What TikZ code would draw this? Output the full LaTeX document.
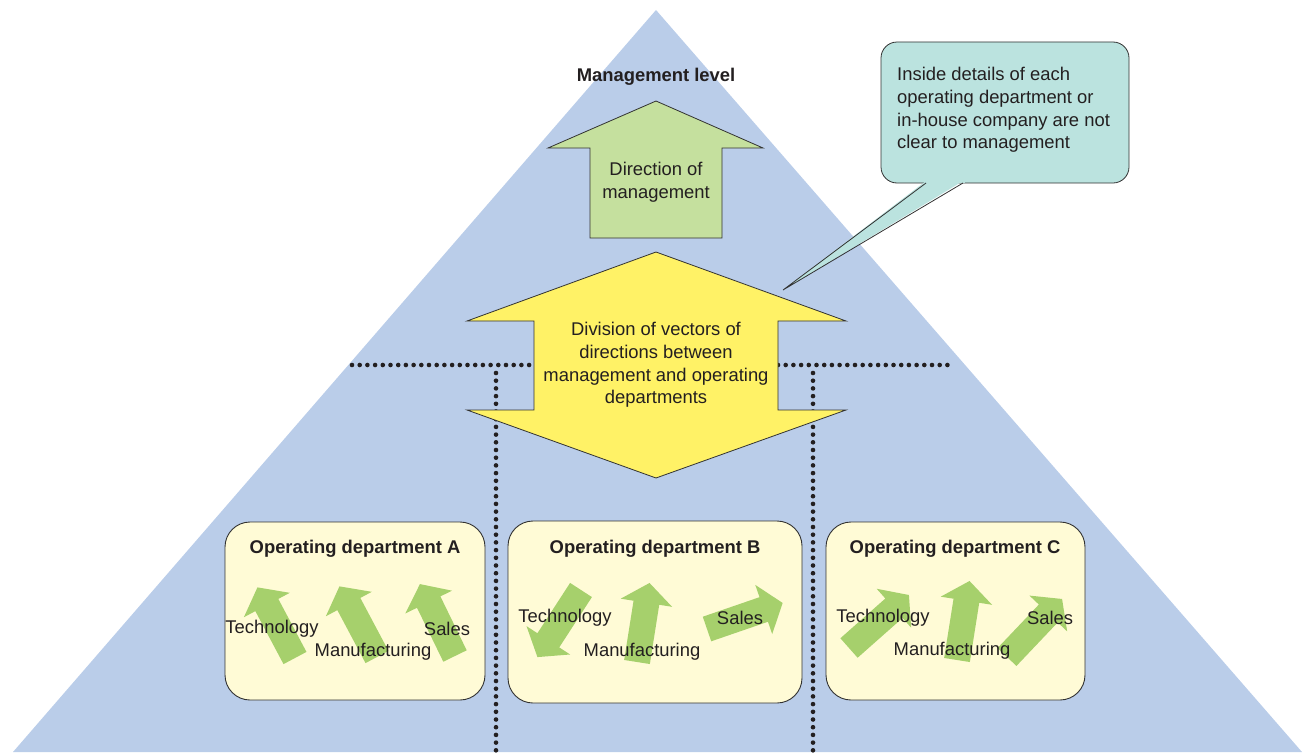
\documentclass[tikz,border=0pt]{standalone}
\usepackage{fontspec}
\setmainfont{Liberation Sans}
\definecolor{tri}{RGB}{186,205,233}
\definecolor{mgreen}{RGB}{197,224,158}
\definecolor{ayellow}{RGB}{255,242,102}
\definecolor{callc}{RGB}{187,227,223}
\definecolor{boxc}{RGB}{255,251,214}
\definecolor{sgreen}{RGB}{166,208,108}
\definecolor{ink}{RGB}{35,31,32}
\definecolor{edge}{RGB}{50,50,50}
\tikzset{
  txt/.style={font=\fontsize{18.4}{22.7}\selectfont, text=ink, inner sep=0pt},
  btxt/.style={font=\fontsize{18.4}{22.7}\selectfont\bfseries, text=ink, inner sep=0pt},
  bigarrow/.style={draw=edge, line width=0.8pt, line join=miter},
  deptbox/.style={draw=edge, line width=0.9pt, fill=boxc, rounded corners=25pt},
  dotline/.style={ink, line width=4.6pt, line cap=round, dash pattern=on 0pt off 7.7pt},
  smallarrow/.style={fill=sgreen, draw=none}
}
\newcommand{\fatarrow}[3]{%
  \fill[smallarrow, shift={(#1,#2)}, rotate=#3]
    (0,-13) -- (60,-13) -- (60,-26) -- (80,0) -- (60,26) -- (60,13) -- (0,13) -- cycle;}
\begin{document}
\begin{tikzpicture}[x=1pt,y=-1pt]
\useasboundingbox (0,0) rectangle (1303,752);
% background triangle
\coordinate (apex) at (656,10);
\coordinate (bl) at (13,752);
\coordinate (br) at (1302,752);
\fill[tri] (apex) -- (br) -- (bl) -- cycle;

% dotted division lines
\coordinate (hl1) at (352,365);
\coordinate (hl2) at (534,365);
\coordinate (hr1) at (778,365);
\coordinate (hr2) at (955,365);
\coordinate (vl1) at (496,373);
\coordinate (vl2) at (496,752);
\coordinate (vr1) at (813,373);
\coordinate (vr2) at (813,752);
\draw[dotline] (hl1) -- (hl2);
\draw[dotline] (hr1) -- (hr2);
\draw[dotline] (vl1) -- (vl2);
\draw[dotline] (vr1) -- (vr2);

% management level
\node[btxt] (mlevel) at (656,77) {Management level};

% direction of management arrow
\draw[bigarrow, fill=mgreen] (656,101) -- (763,148) -- (722,148) -- (722,238)
  -- (590,238) -- (590,148) -- (548,148) -- cycle;
\node[txt, align=center] (dirm) at (656,182) {Direction of\\management};

% division double arrow
\draw[bigarrow, fill=ayellow] (656,252) -- (846,321) -- (778,321) -- (778,410)
  -- (846,410) -- (656,478) -- (467,410) -- (534,410) -- (534,321) -- (467,321) -- cycle;
\node[txt, align=center] (divv) at (656,365) {Division of vectors of\\directions between\\management and operating\\departments};

% callout
\node[draw=edge, line width=0.8pt, fill=callc, rounded corners=16pt, minimum width=248pt,
  minimum height=141pt, inner sep=0pt] (call) at (1005,112.5) {};
\coordinate (ptip) at (783,290);
\coordinate (pa) at (926,183);
\coordinate (pb) at (963,183);
\fill[callc] (926,181) -- (ptip) -- (963,181) -- cycle;
\fill[callc] (924,179) rectangle (965,182.6);
\draw[edge, line width=0.8pt] (pa) -- (ptip) -- (pb);
\node[txt, align=left, anchor=west] (calltext) at (897,110)
  {Inside details of each\\operating department or\\in-house company are not\\clear to management};

% department boxes
\node[deptbox, minimum width=260pt, minimum height=178pt] (deptA) at (355,611) {};
\node[deptbox, minimum width=294pt, minimum height=182pt] (deptB) at (655,612) {};
\node[deptbox, minimum width=259pt, minimum height=178pt] (deptC) at (955.5,611) {};
\node[btxt] (tA) at (355,549) {Operating department A};
\node[btxt] (tB) at (655,549) {Operating department B};
\node[btxt] (tC) at (955,549) {Operating department C};

% small arrows A
\fatarrow{295}{658}{118}
\fatarrow{377}{657}{118}
\fatarrow{455}{656}{116}
% small arrows B
\fatarrow{581}{590}{237}
\fatarrow{637}{662}{81}
\fatarrow{707}{629}{19}
% small arrows C
\fatarrow{849}{648}{41.5}
\fatarrow{957}{660}{81}
\fatarrow{1007}{657}{46.5}

% labels
\node[txt] (aT) at (272,629) {Technology};
\node[txt] (aM) at (373,652) {Manufacturing};
\node[txt] (aS) at (447,629) {Sales};
\node[txt] (bT) at (565,618) {Technology};
\node[txt] (bM) at (642,652) {Manufacturing};
\node[txt] (bS) at (740,618) {Sales};
\node[txt] (cT) at (883,618) {Technology};
\node[txt] (cM) at (952,651) {Manufacturing};
\node[txt] (cS) at (1050,618) {Sales};
\end{tikzpicture}
\end{document}
